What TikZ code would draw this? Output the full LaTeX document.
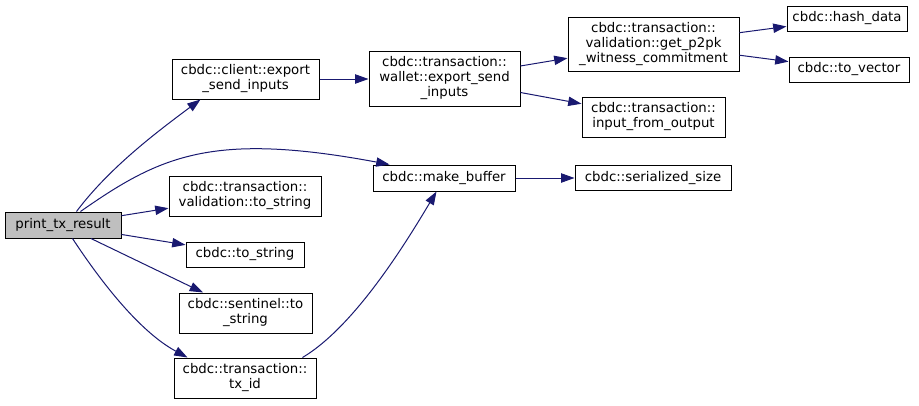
\documentclass[tikz,border=0pt]{standalone}
\usepackage{fontspec}
\setmainfont{DejaVu Sans}
\usetikzlibrary{arrows.meta,calc}
\definecolor{edgeblue}{HTML}{191970}
\definecolor{rootgray}{HTML}{BFBFBF}
\begin{document}
\begin{tikzpicture}[x=1pt,y=-1pt,
  box/.style={draw=black, line width=1pt, fill=white, inner sep=0pt, align=center,
    font=\fontsize{13.3}{15}\selectfont},
  call/.style={draw=edgeblue, line width=1pt,
    -{Triangle[length=13.3pt,width=9.3pt]}, edgeblue}]
\useasboundingbox (0,0) rectangle (919,405);
% nodes
\node[box, fill=rootgray, minimum width=116pt, minimum height=26pt] (ptr) at (63,225) {print\_tx\_result};
\node[box, minimum width=147pt, minimum height=40pt] (client) at (245.5,79) {cbdc::client::export\\\_send\_inputs};
\node[box, minimum width=151pt, minimum height=55pt] (wallet) at (444.5,78.5) {cbdc::transaction::\\wallet::export\_send\\\_inputs};
\node[box, minimum width=171pt, minimum height=54pt] (p2pk) at (653.5,44) {cbdc::transaction::\\validation::get\_p2pk\\\_witness\_commitment};
\node[box, minimum width=120pt, minimum height=25pt] (hash) at (847,18.5) {cbdc::hash\_data};
\node[box, minimum width=120pt, minimum height=25pt] (tovec) at (849,69.5) {cbdc::to\_vector};
\node[box, minimum width=143pt, minimum height=40pt] (ifo) at (653.5,117) {cbdc::transaction::\\input\_from\_output};
\node[box, minimum width=142pt, minimum height=26pt] (mkbuf) at (444,178) {cbdc::make\_buffer};
\node[box, minimum width=156pt, minimum height=25pt] (sersize) at (653,178) {cbdc::serialized\_size};
\node[box, minimum width=152pt, minimum height=40pt] (vts) at (245,196) {cbdc::transaction::\\validation::to\_string};
\node[box, minimum width=118pt, minimum height=25pt] (ts) at (245,254.5) {cbdc::to\_string};
\node[box, minimum width=133pt, minimum height=40pt] (sent) at (245.5,313) {cbdc::sentinel::to\\\_string};
\node[box, minimum width=142pt, minimum height=40pt] (txid) at (245,378) {cbdc::transaction::\\tx\_id};
% connectors
\draw[call] ($(ptr.north west)+(72,0)$) .. controls +(33,-44) and +(-43,32) .. ($(client.south west)+(29,0)$);
\draw[call] ($(ptr.north west)+(76,0)$) .. controls +(80,-56) and +(-177,-33) .. ($(mkbuf.north west)+(17,0)$);
\draw[call] (ptr) -- (vts);
\draw[call] (ptr) -- (ts);
\draw[call] (ptr) -- (sent);
\draw[call] ($(ptr.south west)+(68,0)$) .. controls +(25,38) and +(-50,-27) .. ($(txid.north west)+(14,0)$);
\draw[call] ($(txid.north west)+(129,0)$) .. controls +(52,-31) and +(-31,52) .. ($(mkbuf.south west)+(64,0)$);
\draw[call] (client.east) -- (client.east -| wallet.west);
\draw[call] (wallet) -- (p2pk);
\draw[call] (wallet) -- (ifo);
\draw[call] (p2pk) -- (hash);
\draw[call] (p2pk) -- (tovec);
\draw[call] (mkbuf) -- (sersize);
\end{tikzpicture}
\end{document}
